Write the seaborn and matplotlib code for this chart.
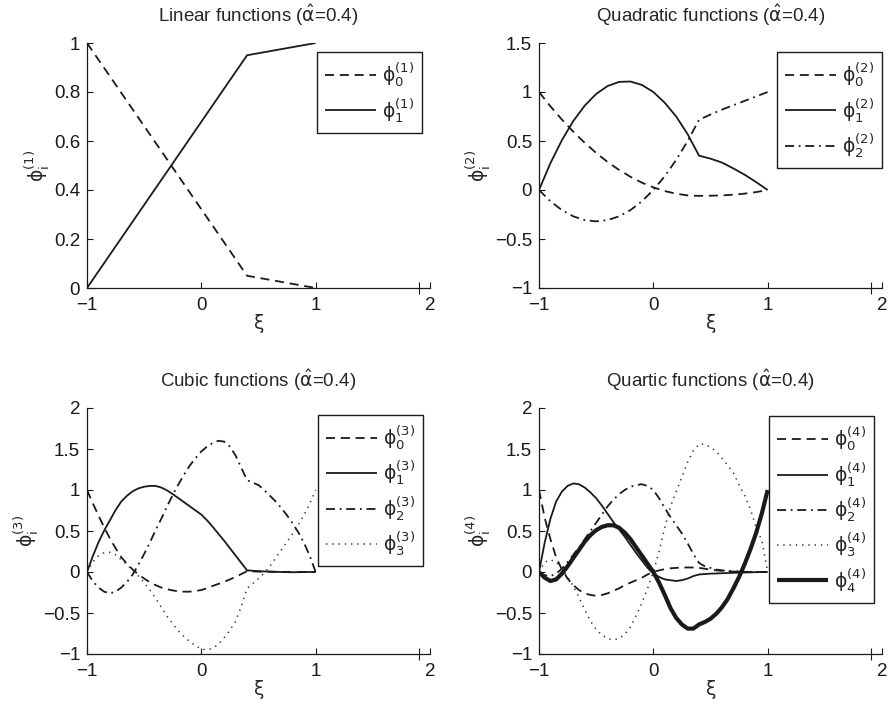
import matplotlib
matplotlib.use("Agg")
import matplotlib.pyplot as plt
from matplotlib.ticker import FuncFormatter, MultipleLocator
import seaborn as sns

# ---------------- data ----------------
x_lin = [-1.0, 0.4, 1.0]
lin_phi0 = [1.0, 0.05, 0.0]
lin_phi1 = [0.0, 0.95, 1.0]

x_q = [-1.0, -0.9, -0.8, -0.7, -0.6, -0.5, -0.4, -0.3, -0.2, -0.1, 0.0,
       0.1, 0.2, 0.3, 0.4, 0.5, 0.6, 0.7, 0.8, 0.9, 1.0]
quad_phi0 = [1.0, 0.854, 0.719, 0.595, 0.481, 0.378, 0.286, 0.205, 0.135, 0.075, 0.027,
             -0.011, -0.038, -0.055, -0.06, -0.058, -0.055, -0.048, -0.037, -0.021, 0.0]
quad_phi1 = [0.0, 0.274, 0.508, 0.704, 0.861, 0.98, 1.061, 1.103, 1.107, 1.072, 1.0,
             0.89, 0.75, 0.57, 0.35, 0.32, 0.28, 0.22, 0.155, 0.08, 0.0]
quad_phi2 = [0.0, -0.115, -0.205, -0.269, -0.307, -0.32, -0.307, -0.269, -0.205, -0.115, 0.0,
             0.141, 0.307, 0.499, 0.717, 0.77, 0.82, 0.865, 0.91, 0.955, 1.0]

x_c = [-1.0, -0.95, -0.9, -0.85, -0.8, -0.75, -0.7, -0.65, -0.6, -0.55, -0.5,
       -0.45, -0.4, -0.35, -0.3, -0.25, -0.2, -0.15, -0.1, -0.05, 0.0,
       0.05, 0.1, 0.15, 0.2, 0.25, 0.3, 0.35, 0.4, 0.45, 0.5,
       0.55, 0.6, 0.65, 0.7, 0.75, 0.8, 0.85, 0.9, 0.95, 1.0]
cub_phi0 = [1.0, 0.84, 0.69, 0.545, 0.41, 0.29, 0.18, 0.1, 0.03, -0.03, -0.08,
            -0.125, -0.16, -0.19, -0.21, -0.225, -0.235, -0.24, -0.24, -0.232, -0.22,
            -0.197, -0.17, -0.145, -0.12, -0.09, -0.06, -0.025, 0.01, 0.007, 0.005,
            0.004, 0.003, 0.002, 0.002, 0.001, 0.001, 0.0, 0.0, 0.0, 0.0]
cub_phi1 = [0.0, 0.19, 0.36, 0.505, 0.63, 0.755, 0.86, 0.93, 0.985, 1.02, 1.04,
            1.05, 1.05, 1.03, 0.995, 0.95, 0.9, 0.85, 0.8, 0.75, 0.7,
            0.63, 0.55, 0.465, 0.38, 0.29, 0.2, 0.11, 0.02, 0.015, 0.01,
            0.007, 0.005, 0.002, 0.0, -0.002, -0.003, -0.002, -0.001, 0.0, 0.0]
cub_phi2 = [0.0, -0.11, -0.19, -0.24, -0.26, -0.24, -0.19, -0.12, -0.03, 0.09, 0.22,
            0.36, 0.51, 0.65, 0.8, 0.94, 1.07, 1.19, 1.3, 1.39, 1.47,
            1.53, 1.575, 1.6, 1.59, 1.53, 1.42, 1.27, 1.12, 1.09, 1.06,
            1.0, 0.93, 0.86, 0.78, 0.69, 0.59, 0.48, 0.35, 0.19, 0.0]
cub_phi3 = [0.0, 0.12, 0.2, 0.235, 0.24, 0.21, 0.15, 0.09, 0.02, -0.05, -0.13,
            -0.22, -0.32, -0.43, -0.54, -0.63, -0.72, -0.79, -0.85, -0.9, -0.94,
            -0.95, -0.93, -0.88, -0.8, -0.71, -0.6, -0.42, -0.2, -0.14, -0.08,
            -0.01, 0.07, 0.17, 0.27, 0.37, 0.47, 0.58, 0.7, 0.84, 1.0]

x_r = x_c
quar_phi0 = [1.0, 0.66, 0.4, 0.18, 0.03, -0.08, -0.16, -0.22, -0.26, -0.28, -0.29,
             -0.28, -0.26, -0.23, -0.2, -0.16, -0.13, -0.1, -0.07, -0.03, 0.0,
             0.02, 0.035, 0.045, 0.05, 0.055, 0.055, 0.055, 0.05, 0.04, 0.03,
             0.02, 0.015, 0.01, 0.005, 0.003, 0.002, 0.001, 0.0, 0.0, 0.0]
quar_phi1 = [0.0, 0.36, 0.65, 0.86, 0.98, 1.05, 1.08, 1.07, 1.03, 0.97, 0.9,
             0.81, 0.71, 0.61, 0.52, 0.43, 0.33, 0.23, 0.14, 0.05, -0.02,
             -0.06, -0.09, -0.1, -0.11, -0.1, -0.08, -0.05, -0.03, -0.025, -0.02,
             -0.018, -0.015, -0.012, -0.01, -0.008, -0.006, -0.004, -0.002, -0.001, 0.0]
quar_phi2 = [0.0, -0.04, -0.05, -0.02, 0.04, 0.12, 0.21, 0.3, 0.4, 0.5, 0.6,
             0.7, 0.8, 0.88, 0.95, 1.0, 1.04, 1.06, 1.07, 1.05, 1.0,
             0.9, 0.78, 0.67, 0.57, 0.47, 0.35, 0.22, 0.11, 0.07, 0.05,
             0.03, 0.02, 0.012, 0.008, 0.005, 0.003, 0.002, 0.001, 0.0, 0.0]
quar_phi3 = [0.0, 0.12, 0.15, 0.12, 0.04, -0.06, -0.17, -0.31, -0.46, -0.6, -0.7,
             -0.77, -0.81, -0.83, -0.81, -0.76, -0.67, -0.53, -0.38, -0.2, 0.0,
             0.25, 0.54, 0.8, 0.98, 1.16, 1.34, 1.48, 1.56, 1.56, 1.52,
             1.47, 1.39, 1.3, 1.21, 1.06, 0.93, 0.76, 0.54, 0.38, 0.0]
quar_phi4 = [0.0, -0.07, -0.11, -0.09, -0.02, 0.07, 0.17, 0.27, 0.37, 0.45, 0.51,
             0.55, 0.57, 0.57, 0.54, 0.48, 0.4, 0.3, 0.2, 0.1, 0.0,
             -0.13, -0.28, -0.44, -0.56, -0.64, -0.69, -0.69, -0.64, -0.61, -0.57,
             -0.51, -0.43, -0.33, -0.2, -0.06, 0.1, 0.28, 0.48, 0.72, 1.0]

titles = [r"Linear functions ($\hat{\mathrm{\alpha}}$=0.4)",
          r"Quadratic functions ($\hat{\mathrm{\alpha}}$=0.4)",
          r"Cubic functions ($\hat{\mathrm{\alpha}}$=0.4)",
          r"Quartic functions ($\hat{\mathrm{\alpha}}$=0.4)"]

# ---------------- style ----------------
sns.set_theme(style="white")
plt.rcParams["font.family"] = ["Liberation Sans", "DejaVu Sans"]
plt.rcParams["mathtext.fontset"] = "custom"
plt.rcParams["mathtext.rm"] = "DejaVu Sans"
plt.rcParams["mathtext.it"] = "DejaVu Sans"
plt.rcParams["mathtext.bf"] = "DejaVu Sans:bold"
plt.rcParams["axes.unicode_minus"] = True

FS = 13.5

STY = {
    "dash": dict(dashes=(5.0, 3.2), lw=1.3, color="k"),
    "solid": dict(dashes=None, lw=1.3, color="k"),
    "dashdot": dict(dashes=(5.0, 2.6, 1.0, 2.6), lw=1.3, color="k"),
    "dot": dict(dashes=(0.9, 3.2), lw=1.1, color="0.2"),
    "thick": dict(dashes=None, lw=3.0, color="k"),
}

fig = plt.figure(figsize=(8.94, 7.04), dpi=100)
W, H = 894.0, 704.0

def make_ax(left, right, top, bottom):
    return fig.add_axes([left / W, 1 - bottom / H, (right - left) / W, (bottom - top) / H])

fmt = FuncFormatter(lambda v, p: ("%g" % round(v, 6)).replace("-", "\u2212"))

panels = [
    dict(box=(87, 430, 43, 288), ylim=(0, 1), ystep=0.2, deg=1,
         series=[(x_lin, lin_phi0, "dash"), (x_lin, lin_phi1, "solid")],
         leg=(0.977, 0.963)),
    dict(box=(539, 882, 43, 288), ylim=(-1, 1.5), ystep=0.5, deg=2,
         series=[(x_q, quad_phi0, "dash"), (x_q, quad_phi1, "solid"), (x_q, quad_phi2, "dashdot")],
         leg=(1.0, 0.963)),
    dict(box=(87, 430, 408, 654), ylim=(-1, 2), ystep=0.5, deg=3,
         series=[(x_c, cub_phi0, "dash"), (x_c, cub_phi1, "solid"), (x_c, cub_phi2, "dashdot"),
                 (x_c, cub_phi3, "dot")],
         leg=(0.98, 0.972)),
    dict(box=(539, 882, 408, 654), ylim=(-1, 2), ystep=0.5, deg=4,
         series=[(x_r, quar_phi0, "dash"), (x_r, quar_phi1, "solid"), (x_r, quar_phi2, "dashdot"),
                 (x_r, quar_phi3, "dot"), (x_r, quar_phi4, "thick")],
         leg=(0.977, 0.967)),
]

for p, title in zip(panels, titles):
    ax = make_ax(*p["box"])
    d = p["deg"]
    for i, (xs, ys, st) in enumerate(p["series"]):
        s = STY[st]
        sns.lineplot(x=xs, y=ys, ax=ax, color=s["color"], linewidth=s["lw"],
                     sort=False, estimator=None,
                     label=r"$\mathrm{\phi_{%d}^{(%d)}}$" % (i, d))
        ln = ax.get_lines()[-1]
        if s["dashes"] is not None:
            ln.set_dashes(s["dashes"])
        ln.set_solid_capstyle("butt")
        ln.set_dash_capstyle("butt")
        ln.set_solid_joinstyle("round")
    ax.set_xlim(-1, 2)
    ax.set_ylim(*p["ylim"])
    ax.set_xticks([-1, 0, 1, 2])
    ax.yaxis.set_major_locator(MultipleLocator(p["ystep"]))
    ax.set_xticks([1.9], minor=True)
    ax.xaxis.set_major_formatter(fmt)
    ax.yaxis.set_major_formatter(fmt)
    for side in ("top", "right"):
        ax.spines[side].set_visible(False)
    for side in ("left", "bottom"):
        ax.spines[side].set_color("k")
        ax.spines[side].set_linewidth(0.9)
    ax.tick_params(which="major", direction="in", length=4, width=0.8, labelsize=FS,
                   pad=5, colors="k", left=True, bottom=True)
    ax.tick_params(axis="x", which="major", pad=6.5)
    ax.tick_params(axis="x", which="minor", direction="inout", length=8, width=0.8,
                   bottom=True, colors="k")
    ax.set_title(title, fontsize=FS, pad=15)
    ax.set_xlabel(r"$\mathrm{\xi}$", fontsize=FS, labelpad=-1.5)
    ax.set_ylabel(r"$\mathrm{\phi_i^{(%d)}}$" % d, fontsize=FS, labelpad=1)
    leg = ax.legend(loc="upper right", bbox_to_anchor=p["leg"], fontsize=FS,
                    frameon=True, fancybox=False, framealpha=1, edgecolor="k",
                    handlelength=2.7, handletextpad=0.3, labelspacing=0.35,
                    borderpad=0.45, borderaxespad=0.0)
    leg.get_frame().set_linewidth(1.0)

fig.savefig("out.png", dpi=100)
